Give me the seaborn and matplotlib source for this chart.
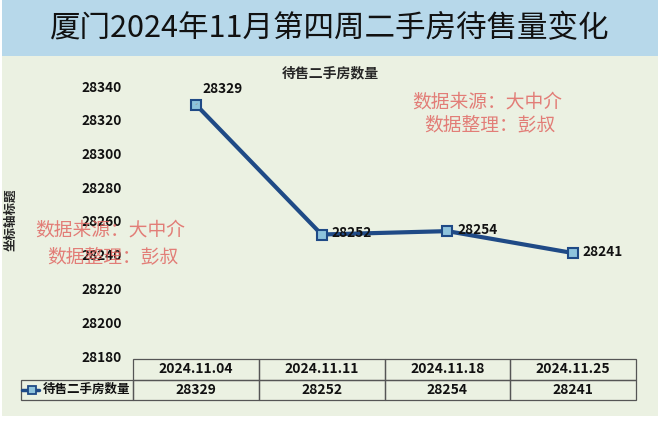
import numpy as np
import pandas as pd
import matplotlib
matplotlib.use("Agg")
import matplotlib.pyplot as plt
import seaborn as sns
from matplotlib.patches import Rectangle
from matplotlib.lines import Line2D

# data
dates = ["2024.11.04", "2024.11.11", "2024.11.18", "2024.11.25"]
counts = [28329, 28252, 28254, 28241]
series_name = "待售二手房数量"
yticks = [28180, 28200, 28220, 28240, 28260, 28280, 28300, 28320, 28340]

sns.set_theme(style="white")
plt.rcParams["font.family"] = ["Noto Sans CJK SC", "DejaVu Sans"]

bg = "#ebf1e2"
band = "#b7d8ea"
navy = "#1f4a86"
wm = "#e0605c"

fig = plt.figure(figsize=(6.6, 4.22), dpi=100)
fig.patch.set_facecolor("white")
W, H = 660, 422

def fx(px):
    return px / W

def fy(py):
    return 1 - py / H

# panel + title band (behind the axes)
fig.patches.append(Rectangle((0.003, fy(416)), fx(656), 416 / H, transform=fig.transFigure,
                             facecolor=bg, edgecolor="none", zorder=-2))
fig.patches.append(Rectangle((0.003, fy(56)), fx(656), 56 / H, transform=fig.transFigure,
                             facecolor=band, edgecolor="none", zorder=-1))
fig.text(0.5, fy(29), "厦门2024年11月第四周二手房待售量变化", ha="center", va="center",
         fontsize=22, color="#111111")

ax = fig.add_axes([fx(133), fy(356), fx(636 - 133), (356 - 86) / H])
ax.set_facecolor("none")

df = pd.DataFrame({"date": dates, "count": counts})
sns.lineplot(data=df, x="date", y="count", ax=ax, color=navy, linewidth=3,
             marker="s", markersize=7, markerfacecolor="#8ec3dc",
             markeredgecolor=navy, markeredgewidth=1.5)

ax.set_xlim(-0.5, 3.5)
ax.set_ylim(28180, 28340)
ax.set_yticks(yticks)
ax.set_yticklabels([str(v) for v in yticks], fontsize=9.8, fontweight="bold", color="#111111")
ax.tick_params(axis="y", length=0, pad=8)
ax.set_xticks([])
ax.set_xlabel("")
ax.set_ylabel("")
for s in ax.spines.values():
    s.set_visible(False)

# data labels
for i, v in enumerate(counts):
    if i == 0:
        ax.annotate(str(v), xy=(i, v), xytext=(19, 11), textcoords="offset points",
                    ha="center", va="center", fontsize=9.8, fontweight="bold", color="#111111",
                    arrowprops=dict(arrowstyle="-", color="#999999", lw=0.6, shrinkA=6, shrinkB=4))
    else:
        ax.annotate(str(v), xy=(i, v), xytext=(7, 1), textcoords="offset points",
                    ha="left", va="center", fontsize=9.8, fontweight="bold", color="#111111")

fig.text(0.5, fy(73), "待售二手房数量", ha="center", va="center", fontsize=10, fontweight="bold")
fig.text(fx(11), fy(220), "坐标轴标题", ha="center", va="center", rotation=90,
         fontsize=9, fontweight="bold")

# table below plot
cell_text = [[""] + dates, [series_name] + [str(v) for v in counts]]
x0 = (21 - 133) / 503
tbl = ax.table(cellText=cell_text, cellLoc="center",
               bbox=[x0, -(400 - 356) / 270, (636 - 21) / 503, 41 / 270])
tbl.auto_set_font_size(False)
tw = 636 - 21
for (r, c), cell in tbl.get_celld().items():
    cell.set_width((112 if c == 0 else 125.75) / tw)
    cell.set_facecolor("none")
    cell.set_edgecolor("#555555")
    cell.set_linewidth(0.9)
    cell.get_text().set_fontsize(10)
    cell.get_text().set_fontweight("bold")
    cell.get_text().set_color("#111111")
    if r == 0 and c == 0:
        cell.visible_edges = ""
    if r == 1 and c == 0:
        cell.get_text().set_fontsize(9)
        cell.get_text().set_ha("right")
        cell.PAD = 0.02

# legend key in the row label cell
key_y = -(390 - 356) / 270
ax.add_line(Line2D([(22 - 133) / 503, (39 - 133) / 503], [key_y] * 2,
                   transform=ax.transAxes, clip_on=False, color=navy, lw=2.5))
ax.add_line(Line2D([(32 - 133) / 503], [key_y], transform=ax.transAxes,
                   clip_on=False, marker="s", markersize=5.5, markerfacecolor="#8ec3dc",
                   markeredgecolor=navy, markeredgewidth=1.3, linestyle="none"))

# watermarks
wm_kw = dict(ha="center", va="center", fontsize=13.5, color=wm, alpha=0.8)
fig.text(fx(487), fy(102), "数据来源：大中介", **wm_kw)
fig.text(fx(490), fy(125), "数据整理：彭叔", **wm_kw)
fig.text(fx(110), fy(230), "数据来源：大中介", **wm_kw)
fig.text(fx(113), fy(257), "数据整理：彭叔", **wm_kw)

fig.savefig("out.png", dpi=100, facecolor=fig.get_facecolor())
